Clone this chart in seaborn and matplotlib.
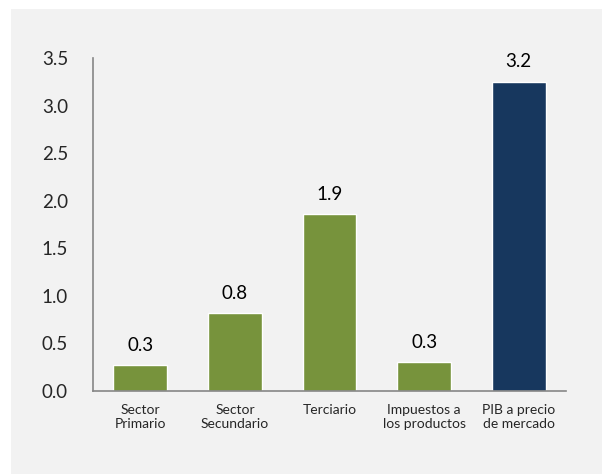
import numpy as np
import pandas as pd
import matplotlib
matplotlib.use("Agg")
import matplotlib.pyplot as plt
import seaborn as sns
from matplotlib.patches import Rectangle

# Data
categories = ["Sector\nPrimario", "Sector\nSecundario", "Terciario",
              "Impuestos a\nlos productos", "PIB a precio\nde mercado"]
values = [0.27, 0.82, 1.86, 0.30, 3.25]
labels = ["0.3", "0.8", "1.9", "0.3", "3.2"]
colors = ["#77933C", "#77933C", "#77933C", "#77933C", "#17375E"]

df = pd.DataFrame({"cat": categories, "val": values})

sns.set_theme(style="white")
plt.rcParams["font.family"] = ["Lato", "DejaVu Sans"]

fig = plt.figure(figsize=(6.02, 4.74), dpi=100, facecolor="white")
fig.patches.append(Rectangle((11 / 602, 0), 1, 1 - 9 / 474, transform=fig.transFigure,
                             facecolor="#F2F2F2", edgecolor="none", zorder=-1))

ax = fig.add_axes([93 / 602, 1 - 391 / 474, (566 - 93) / 602, (391 - 58) / 474])
ax.set_facecolor("#F2F2F2")

sns.barplot(data=df, x="cat", y="val", hue="cat", palette=colors, legend=False,
            width=0.57, saturation=1, ax=ax)

for i, (v, lab) in enumerate(zip(values, labels)):
    ax.text(i, v + 0.12, lab, ha="center", va="bottom", fontsize=13.5, color="#000000")

ax.set_xlim(-0.5, 4.5)
ax.set_ylim(0, 3.5)
ax.set_yticks(np.arange(0, 3.51, 0.5))
ax.set_yticklabels([f"{t:.1f}" for t in np.arange(0, 3.51, 0.5)], fontsize=13.5)
ax.tick_params(axis="y", length=0, pad=18)
ax.tick_params(axis="x", length=0, pad=9)
for t in ax.get_xticklabels():
    t.set_fontsize(10)
    t.set_linespacing(1.3)
ax.set_xlabel("")
ax.set_ylabel("")

for s in ["top", "right"]:
    ax.spines[s].set_visible(False)
for s in ["left", "bottom"]:
    ax.spines[s].set_color("#868686")
    ax.spines[s].set_linewidth(1.2)

fig.savefig("out.png", dpi=100, facecolor="white")
